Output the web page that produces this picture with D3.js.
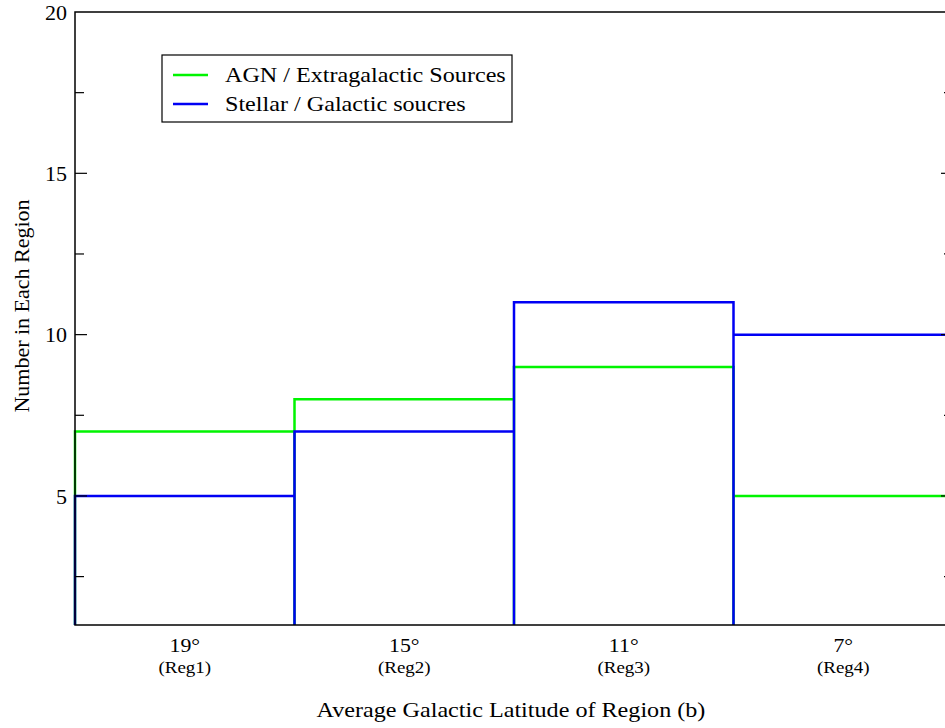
<!DOCTYPE html>
<html>
<head>
<meta charset="utf-8">
<script src="https://cdn.jsdelivr.net/npm/d3@7"></script>
<style>
  html, body { margin: 0; padding: 0; background: #fff; }
  svg { display: block; }
  text { font-family: "Liberation Serif", "Times New Roman", serif; fill: #000; }
</style>
</head>
<body>
<svg id="chart" width="945" height="728"></svg>
<script>
// Source counts per sky region
const regions = ["Reg1", "Reg2", "Reg3", "Reg4"];
const latitudes = ["19°", "15°", "11°", "7°"];
const agnCounts = [7, 8, 9, 5];
const stellarCounts = [5, 7, 11, 10];
const yMajorTicks = [5, 10, 15, 20];
const yMinorTicks = [2.5, 7.5, 12.5, 17.5];
const seriesNames = ["AGN / Extragalactic Sources", "Stellar / Galactic soucres"];
const seriesColors = ["#00f400", "#0000f4"];

const svg = d3.select("#chart");
const margin = { left: 75, top: 12, right: 953, bottom: 625 };
const stretch = 1.15; // slightly wide lettering

const x = d3.scaleLinear().domain([0, regions.length]).range([margin.left, margin.right]);
const y = d3.scaleLinear().domain([1, 20]).range([margin.bottom, margin.top]);

// Place a horizontally widened text label
function label(parent, px, py, str, size, anchor) {
  return parent.append("text")
    .attr("transform", `translate(${px},${py}) scale(${stretch},1)`)
    .attr("font-family", "Liberation Serif, serif")
    .attr("font-size", size)
    .attr("text-anchor", anchor || "start")
    .text(str);
}

// Histogram outlines: each bar is left side, top and right side down to the baseline
function barPath(values) {
  const p = d3.path();
  values.forEach((v, i) => {
    p.moveTo(x(i), y(1));
    p.lineTo(x(i), y(v));
    p.lineTo(x(i + 1), y(v));
    p.lineTo(x(i + 1), y(1));
  });
  return p.toString();
}

svg.append("path")
  .attr("d", barPath(agnCounts))
  .attr("fill", "none")
  .attr("stroke", seriesColors[0])
  .attr("stroke-width", 2.5);

svg.append("path")
  .attr("d", barPath(stellarCounts))
  .attr("fill", "none")
  .attr("stroke", seriesColors[1])
  .attr("stroke-width", 2.5);

// Frame
svg.append("rect")
  .attr("x", margin.left).attr("y", margin.top)
  .attr("width", margin.right - margin.left)
  .attr("height", margin.bottom - margin.top)
  .attr("fill", "none").attr("stroke", "#000").attr("stroke-width", 1.5);

// Inward ticks on left and right
const tickGroup = svg.append("g").attr("stroke", "#000").attr("stroke-width", 1.2);
function addTicks(vals, len) {
  vals.forEach(v => {
    tickGroup.append("line")
      .attr("x1", margin.left).attr("x2", margin.left + len)
      .attr("y1", y(v)).attr("y2", y(v));
    tickGroup.append("line")
      .attr("x1", margin.right).attr("x2", margin.right - len)
      .attr("y1", y(v)).attr("y2", y(v));
  });
}
addTicks(yMajorTicks.filter(v => v < 20), 12);
addTicks(yMinorTicks, 9);

// Y tick labels
svg.append("g").selectAll("text")
  .data(yMajorTicks).join("text")
  .attr("x", margin.left - 8)
  .attr("y", d => y(d))
  .attr("dy", "0.35em")
  .attr("text-anchor", "end")
  .attr("font-size", 22)
  .text(d => d);

// X category labels
const xl = svg.append("g");
latitudes.forEach((d, i) => label(xl, x(i + 0.5), 652, d, 19, "middle"));
regions.forEach((d, i) => label(xl, x(i + 0.5), 673, "(" + d + ")", 16.5, "middle"));

// Axis titles
label(svg, 511, 717, "Average Galactic Latitude of Region (b)", 21, "middle");

svg.append("text")
  .attr("transform", "translate(29,306) rotate(-90)")
  .attr("text-anchor", "middle")
  .attr("font-size", 22)
  .text("Number in Each Region");

// Legend
const legend = svg.append("g");
legend.append("rect")
  .attr("x", 162).attr("y", 55)
  .attr("width", 350).attr("height", 67)
  .attr("fill", "#fff").attr("stroke", "#000").attr("stroke-width", 1.2);
seriesNames.forEach((name, i) => {
  const cy = 75 + i * 29;
  legend.append("line")
    .attr("x1", 173).attr("x2", 208)
    .attr("y1", cy).attr("y2", cy)
    .attr("stroke", seriesColors[i]).attr("stroke-width", 2.5);
  label(legend, 225, cy + 7, name, 21);
});
</script>
</body>
</html>
